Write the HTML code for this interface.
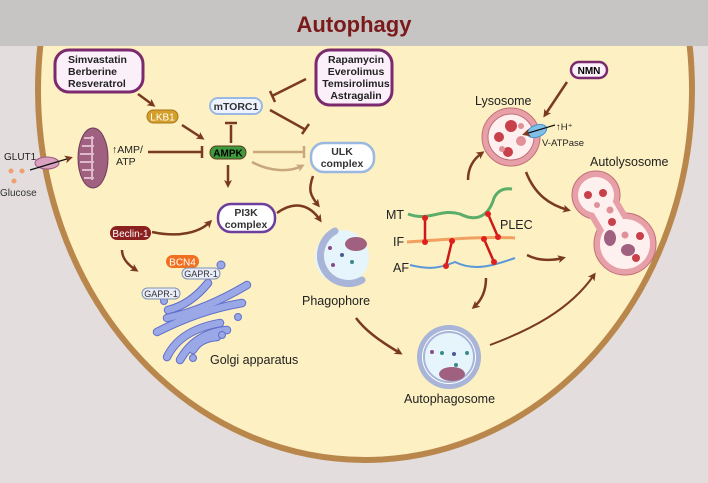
<!DOCTYPE html>
<html><head><meta charset="utf-8"><style>
html,body{margin:0;padding:0;background:#e3dddd;}
svg{display:block;font-family:"Liberation Sans",Arial,sans-serif;}
</style></head><body>
<svg width="708" height="483" viewBox="0 0 708 483" xmlns="http://www.w3.org/2000/svg">
<defs>
<marker id="ah" markerWidth="8" markerHeight="8" refX="5" refY="4" orient="auto" markerUnits="userSpaceOnUse"><path d="M0,0 L8,4 L0,8 L2,4z" fill="#7a3a1f"/></marker>
<marker id="ahl" markerWidth="8" markerHeight="8" refX="5" refY="4" orient="auto" markerUnits="userSpaceOnUse"><path d="M0,0 L8,4 L0,8 L2,4z" fill="#c8a77d"/></marker>
</defs>
<rect width="708" height="483" fill="#e3dddd"/>
<ellipse cx="365" cy="90" rx="327" ry="370" fill="#fdf0c2" stroke="#b9874c" stroke-width="6"/>
<rect x="0" y="0" width="708" height="46" fill="#c7c4c4"/>
<text x="354" y="32" text-anchor="middle" font-size="22" font-weight="bold" fill="#7a1a1a">Autophagy</text>

<!-- drug boxes -->
<rect x="55" y="50" width="88" height="42" rx="14" fill="#fbf0fa" stroke="#7b2a6e" stroke-width="3"/>
<text font-size="10.5" font-weight="bold" fill="#222"><tspan x="68" y="63">Simvastatin</tspan><tspan x="68" y="75">Berberine</tspan><tspan x="68" y="87">Resveratrol</tspan></text>
<rect x="316" y="50" width="76" height="55" rx="14" fill="#fbf0fa" stroke="#7b2a6e" stroke-width="3"/>
<text font-size="10.5" font-weight="bold" fill="#222" text-anchor="middle"><tspan x="356" y="63">Rapamycin</tspan><tspan x="356" y="75">Everolimus</tspan><tspan x="356" y="87">Temsirolimus</tspan><tspan x="356" y="99">Astragalin</tspan></text>
<rect x="571" y="62" width="36" height="16" rx="8" fill="#fbf0fa" stroke="#7b2a6e" stroke-width="2.5"/>
<text x="589" y="74" font-size="10" font-weight="bold" text-anchor="middle">NMN</text>

<!-- nodes -->
<rect x="147" y="110" width="31" height="13" rx="6.5" fill="#d4a02a" stroke="#a9781a"/>
<text x="162.5" y="120.5" font-size="10" fill="#fff" text-anchor="middle">LKB1</text>
<rect x="210" y="98" width="52" height="16" rx="8" fill="#eef3ff" stroke="#9ab8e0" stroke-width="2"/>
<text x="236" y="110" font-size="10.5" font-weight="bold" text-anchor="middle" fill="#333">mTORC1</text>
<rect x="210" y="146" width="36" height="13" rx="6.5" fill="#3d9a3d" stroke="#5a3a1a"/>
<text x="228" y="156.5" font-size="10" font-weight="bold" text-anchor="middle">AMPK</text>
<rect x="311" y="143" width="63" height="29" rx="13" fill="#fff" stroke="#9ab8e0" stroke-width="2.5"/>
<text font-size="10.5" font-weight="bold" text-anchor="middle" fill="#333"><tspan x="342" y="155">ULK</tspan><tspan x="342" y="167">complex</tspan></text>
<rect x="218" y="204" width="57" height="28" rx="13" fill="#fff" stroke="#6c3f9e" stroke-width="2.5"/>
<text font-size="10.5" font-weight="bold" text-anchor="middle" fill="#333"><tspan x="246" y="216">PI3K</tspan><tspan x="246" y="228">complex</tspan></text>
<rect x="110" y="226" width="41" height="14" rx="7" fill="#8b2020"/>
<text x="130.5" y="237" font-size="10" fill="#fff" text-anchor="middle">Beclin-1</text>

<!-- arrows -->
<g fill="none" stroke="#7a3a1f" stroke-width="2.5">
<path d="M138,94 L153,105" marker-end="url(#ah)"/>
<path d="M182,125 L202,138" marker-end="url(#ah)"/>
<path d="M148,152 L201,152"/><path d="M202,146 V158"/>
<path d="M231,143 V125"/><path d="M225,123 H237"/>
<path d="M306,79 L272,96"/><path d="M270,91 L275,102"/>
<path d="M270,110 L306,130"/><path d="M302,134 L309,124"/>
<path d="M228,165 V185" marker-end="url(#ah)"/>
<path d="M313,176 C308,190 310,195 318,205" marker-end="url(#ah)"/>
<path d="M277,213 C295,200 310,205 320,220" marker-end="url(#ah)"/>
<path d="M152,232 C180,238 200,232 210,222" marker-end="url(#ah)"/>
<path d="M122,250 C122,258 128,265 136,270" marker-end="url(#ah)"/>
<path d="M567,82 L545,115" marker-end="url(#ah)"/>
<path d="M468,180 C468,170 472,160 482,153" marker-end="url(#ah)"/>
<path d="M526,172 C535,195 550,205 568,210" marker-end="url(#ah)"/>
<path d="M527,255 C540,262 555,260 563,258" marker-end="url(#ah)"/>
<path d="M486,278 C486,290 482,300 474,307" marker-end="url(#ah)"/>
<path d="M356,318 C365,330 378,340 400,353" marker-end="url(#ah)"/>
<path d="M490,345 C530,330 570,310 594,275" marker-end="url(#ah)" stroke-width="2"/>
</g>
<g fill="none" stroke="#c8a77d" stroke-width="2.5">
<path d="M253,152 H303"/><path d="M304,146 V158"/>
<path d="M252,162 C270,172 290,172 302,166" marker-end="url(#ahl)"/>
</g>

<!-- mitochondrion & glut -->
<ellipse cx="93" cy="158" rx="15" ry="30" fill="#a0607f" stroke="#6e3a5a"/>
<path d="M84,138 h10 M82,146 h12 M80,154 h14 M80,162 h14 M82,170 h12 M84,178 h10 M92,136 v44" stroke="#e0b8cc" stroke-width="2" fill="none"/>
<ellipse cx="47" cy="163" rx="12" ry="6" fill="#d9a0c0" stroke="#9c5a80"/>
<path d="M30,170 L70,158" stroke="#111" stroke-width="1.3" marker-end="url(#ah)"/>
<text x="4" y="160" font-size="10" fill="#222">GLUT1</text>
<circle cx="11" cy="171" r="2.5" fill="#f0a070"/><circle cx="22" cy="171" r="2.5" fill="#f0a070"/><circle cx="14" cy="181" r="2.5" fill="#f0a070"/>
<text x="0" y="196" font-size="10" fill="#333">Glucose</text>
<text x="112" y="153" font-size="10.5" fill="#222">↑AMP/</text>
<text x="116" y="165" font-size="10.5" fill="#222">ATP</text>

<!-- golgi -->
<g fill="none" stroke-linecap="round">
<g stroke="#6070c8" stroke-width="8.5">
<path d="M168,310 Q190,305 208,283"/>
<path d="M167,318 Q205,310 247,285"/>
<path d="M157,332 Q200,310 242,303"/>
<path d="M167,357 Q180,330 220,323"/>
<path d="M180,360 Q195,333 227,330"/>
<path d="M193,350 Q200,338 217,337"/>
</g>
<g stroke="#9aa8e8" stroke-width="6.5">
<path d="M168,310 Q190,305 208,283"/>
<path d="M167,318 Q205,310 247,285"/>
<path d="M157,332 Q200,310 242,303"/>
<path d="M167,357 Q180,330 220,323"/>
<path d="M180,360 Q195,333 227,330"/>
<path d="M193,350 Q200,338 217,337"/>
</g>
</g>
<g fill="#9aa8e8" stroke="#6070c8" stroke-width="1">
<circle cx="221" cy="265" r="4"/><circle cx="164" cy="301" r="3.5"/><circle cx="238" cy="317" r="3.5"/><circle cx="222" cy="335" r="3.5"/><circle cx="193" cy="358" r="3.5"/>
</g>
<rect x="166" y="255" width="33" height="13" rx="6.5" fill="#f07020"/>
<text x="182.5" y="265.5" font-size="10" fill="#fff" text-anchor="middle">BCN4</text>
<rect x="182" y="268" width="38" height="11" rx="5.5" fill="#e8ecf8" stroke="#8090b0"/>
<text x="201" y="277" font-size="9" text-anchor="middle" fill="#333">GAPR-1</text>
<rect x="142" y="288" width="38" height="11" rx="5.5" fill="#e8ecf8" stroke="#8090b0"/>
<text x="161" y="297" font-size="9" text-anchor="middle" fill="#333">GAPR-1</text>
<text x="210" y="364" font-size="12.5" fill="#222">Golgi apparatus</text>

<!-- phagophore -->
<circle cx="342" cy="257" r="27" fill="#e6f4fb"/>
<path d="M335,231 A27,27 0 1,0 362,280" fill="none" stroke="#a8b4d8" stroke-width="7" stroke-linecap="round"/>
<ellipse cx="356" cy="244" rx="11" ry="7" fill="#a0607f"/>
<g fill="#4a5a90"><circle cx="342" cy="255" r="2"/><circle cx="352" cy="262" r="2" fill="#3a8a8a"/><circle cx="333" cy="265" r="2" fill="#8a4a8a"/><circle cx="330" cy="248" r="2" fill="#8a4a8a"/></g>
<text x="302" y="305" font-size="12.5" fill="#222">Phagophore</text>

<!-- autophagosome -->
<circle cx="449" cy="357" r="32" fill="#a8b4d8"/><circle cx="449" cy="357" r="27" fill="#fff"/><circle cx="449" cy="357" r="25" fill="#e6f4fb" stroke="#a8b4d8" stroke-width="2"/>
<ellipse cx="452" cy="374" rx="13" ry="7" fill="#a0607f"/>
<g fill="#4a5a90"><circle cx="454" cy="354" r="2"/><circle cx="442" cy="353" r="2" fill="#3a8a8a"/><circle cx="456" cy="365" r="2" fill="#3a8a8a"/><circle cx="432" cy="352" r="2" fill="#8a4a8a"/><circle cx="467" cy="353" r="2" fill="#3a8a8a"/></g>
<text x="404" y="403" font-size="12.5" fill="#222">Autophagosome</text>

<!-- lysosome -->
<circle cx="511" cy="137" r="29" fill="#e8a0a8" stroke="#c07078"/>
<circle cx="511" cy="137" r="23" fill="#fff0f0" stroke="#c07078"/>
<g fill="#c8404a"><circle cx="511" cy="126" r="6"/><circle cx="499" cy="137" r="5"/><circle cx="508" cy="152" r="5"/><circle cx="521" cy="141" r="5" fill="#e09098"/><circle cx="502" cy="149" r="3" fill="#e09098"/><circle cx="521" cy="126" r="3" fill="#e09098"/></g>
<ellipse cx="537" cy="131" rx="10" ry="6" fill="#80c0e8" stroke="#4a90c8" transform="rotate(-20 537 131)"/>
<path d="M555,125 L525,134" stroke="#111" stroke-width="1.2" marker-end="url(#ah)"/>
<text x="556" y="130" font-size="9.5" fill="#222">↑H⁺</text>
<text x="542" y="146" font-size="9.5" fill="#222">V-ATPase</text>
<text x="475" y="105" font-size="12.5" fill="#222">Lysosome</text>

<!-- autolysosome -->
<g fill="#e8a0a8" stroke="#c07078"><circle cx="596" cy="195" r="24"/><circle cx="625" cy="244" r="31"/></g>
<path d="M596,195 L625,244" stroke="#e8a0a8" stroke-width="34"/>
<g fill="#fff0f0"><circle cx="596" cy="195" r="18"/><circle cx="625" cy="244" r="25"/></g>
<path d="M596,195 L625,244" stroke="#fff0f0" stroke-width="22"/>
<g fill="#c8404a"><circle cx="603" cy="193" r="4"/><circle cx="588" cy="195" r="4"/><circle cx="597" cy="205" r="3" fill="#e09098"/><circle cx="610" cy="210" r="3.5" fill="#e09098"/><circle cx="612" cy="222" r="4"/><circle cx="640" cy="236" r="4"/><circle cx="636" cy="258" r="4"/><circle cx="625" cy="235" r="3.5" fill="#e09098"/></g>
<ellipse cx="610" cy="238" rx="6" ry="8" fill="#a0607f"/><ellipse cx="628" cy="250" rx="7" ry="6" fill="#a0607f"/>
<text x="590" y="166" font-size="12.5" fill="#222">Autolysosome</text>

<!-- cytoskeleton -->
<path d="M408,214 C430,222 440,208 460,214 C480,224 490,212 494,198 C498,190 505,188 512,189" fill="none" stroke="#5cad6a" stroke-width="3"/>
<path d="M407,242 C440,240 480,236 515,238" fill="none" stroke="#f0a060" stroke-width="3"/>
<path d="M410,265 C430,270 440,268 455,262 C475,272 495,265 515,258" fill="none" stroke="#5a98d8" stroke-width="2"/>
<g stroke="#cc1a1a" stroke-width="2.5"><path d="M425,218 V242 M452,241 L446,266 M488,214 L498,237 M484,239 L494,262"/></g>
<g fill="#e02020"><circle cx="425" cy="218" r="3"/><circle cx="425" cy="242" r="3"/><circle cx="452" cy="241" r="3"/><circle cx="446" cy="266" r="3"/><circle cx="488" cy="214" r="3"/><circle cx="498" cy="237" r="3"/><circle cx="484" cy="239" r="3"/><circle cx="494" cy="262" r="3"/></g>
<text x="386" y="219" font-size="12.5" fill="#222">MT</text>
<text x="393" y="246" font-size="12.5" fill="#222">IF</text>
<text x="393" y="272" font-size="12.5" fill="#222">AF</text>
<text x="500" y="229" font-size="12.5" fill="#222">PLEC</text>
</svg>
</body></html>
